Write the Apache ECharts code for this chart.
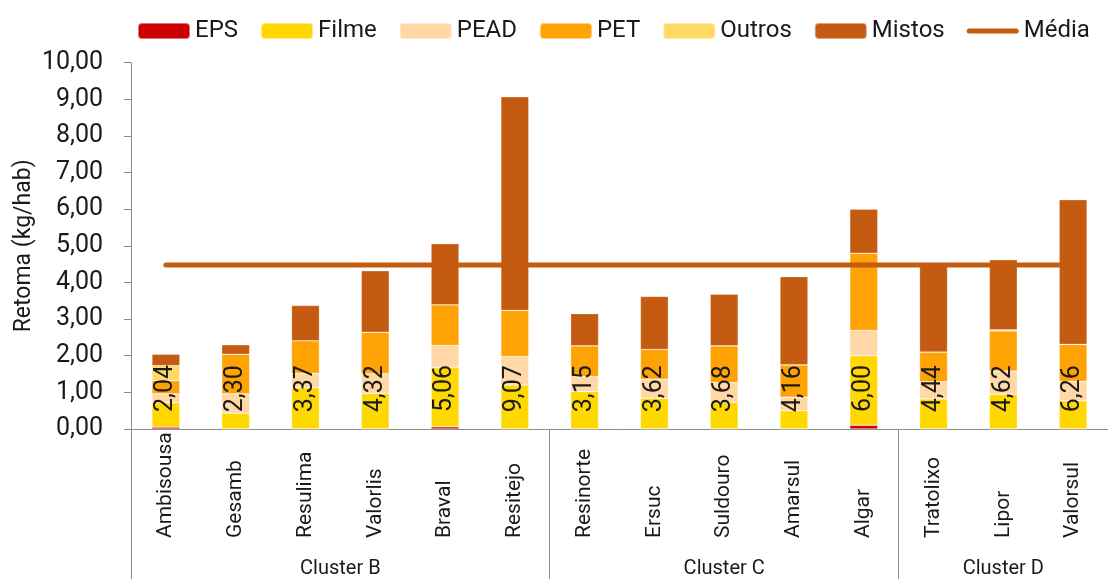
<!DOCTYPE html>
<html>
<head>
<meta charset="utf-8">
<script src="https://cdn.jsdelivr.net/npm/echarts@6/dist/echarts.min.js"></script>
<style>
  html, body { margin: 0; padding: 0; background: #fff; }
  #chart { width: 1108px; height: 579px; }
</style>
</head>
<body>
<div id="chart"></div>
<script>
// dados por sistema (kg/hab)
const categories = ['Ambisousa', 'Gesamb', 'Resulima', 'Valorlis', 'Braval', 'Resitejo', 'Resinorte', 'Ersuc', 'Suldouro', 'Amarsul', 'Algar', 'Tratolixo', 'Lipor', 'Valorsul'];
const eps    = [0.05, 0, 0, 0, 0.06, 0, 0, 0, 0, 0, 0.10, 0, 0, 0];
const filme  = [0.67, 0.43, 1.13, 0.97, 1.62, 1.20, 1.02, 0.84, 0.73, 0.50, 1.90, 0.82, 0.95, 0.77];
const pead   = [0.24, 0.53, 0.39, 0.54, 0.60, 0.78, 0.41, 0.52, 0.54, 0.37, 0.69, 0.47, 0.63, 0.53];
const pet    = [0.36, 1.08, 0.89, 1.13, 1.11, 1.26, 0.84, 0.81, 1.00, 0.88, 2.11, 0.81, 1.10, 1.01];
const outros = [0.41, 0, 0, 0, 0, 0, 0, 0, 0, 0, 0, 0, 0.03, 0];
const mistos = [0.31, 0.26, 0.96, 1.68, 1.67, 5.83, 0.88, 1.45, 1.41, 2.41, 1.20, 2.34, 1.91, 3.95];
const totals = [2.04, 2.30, 3.37, 4.32, 5.06, 9.07, 3.15, 3.62, 3.68, 4.16, 6.00, 4.44, 4.62, 6.26];
const media = 4.48;

// clusters
const clusterNames = ['Cluster B', 'Cluster C', 'Cluster D'];
const clusterSizes = [6, 5, 3];

const yTicks = [0, 1, 2, 3, 4, 5, 6, 7, 8, 9, 10];

// limites e centros dos clusters no eixo
const bounds = [0];
clusterSizes.forEach(function (n) { bounds.push(bounds[bounds.length - 1] + n); });
const mids = clusterNames.map(function (c, i) { return (bounds[i] + bounds[i + 1]) / 2; });

const fmt = function (v) { return v.toFixed(2).replace('.', ','); };
const txt = '#1a1a1a';
const axisGrey = '#8c8c8c';
const num = 'Roboto';

var myChart = echarts.init(document.getElementById('chart'));

function barSeries(name, data, color) {
    return {
        name: name,
        type: 'bar',
        stack: 'total',
        barWidth: '40%',
        data: data,
        itemStyle: { color: color, borderColor: 'rgba(255,255,255,0.45)', borderWidth: 0.6 }
    };
}

var series = [
    barSeries('EPS', eps, '#CC0000'),
    barSeries('Filme', filme, '#FFD800'),
    barSeries('PEAD', pead, '#FFD8A6'),
    barSeries('PET', pet, '#FFA204'),
    barSeries('Outros', outros, '#FFD966'),
    barSeries('Mistos', mistos, '#C55A11')
];
// rótulo com o total, na base da barra
series[0].z = 4;
series[0].label = {
    show: true,
    position: 'insideBottom',
    distance: 17,
    rotate: 90,
    align: 'left',
    verticalAlign: 'middle',
    color: txt,
    fontFamily: num,
    fontSize: 25,
    formatter: function (p) { return fmt(totals[p.dataIndex]); }
};
series.push({
    name: 'Média',
    type: 'line',
    data: categories.map(function () { return media; }),
    symbol: 'none',
    z: 5,
    lineStyle: { color: '#C55A11', width: 5, cap: 'round' },
    itemStyle: { color: '#C55A11' }
});

let option = {
    animation: false,
    backgroundColor: '#fff',
    legend: {
        data: ['EPS', 'Filme', 'PEAD', 'PET', 'Outros', 'Mistos',
            { name: 'Média', icon: 'path://M2.5,0 L49.5,0 A2.5,2.5 0 0 1 49.5,5 L2.5,5 A2.5,2.5 0 0 1 2.5,0 Z' }],
        left: 132,
        top: 14,
        width: 1000,
        itemWidth: 52,
        itemHeight: 16,
        itemGap: 22,
        textStyle: { color: txt, fontFamily: num, fontSize: 24 }
    },
    grid: { left: 131, top: 62.7, width: 990, height: 366.3 },
    xAxis: [
        {
            type: 'category',
            data: categories,
            axisLine: { lineStyle: { color: axisGrey, width: 1 } },
            axisTick: { length: 111, lineStyle: { color: axisGrey } },
            axisLabel: {
                interval: 0,
                rotate: 90,
                align: 'left',
                verticalAlign: 'middle',
                margin: 109,
                color: txt,
                fontFamily: num,
                fontSize: 21
            }
        },
        {
            type: 'value',
            min: 0,
            max: categories.length,
            position: 'bottom',
            axisLine: { show: false },
            splitLine: { show: false },
            axisTick: { show: true, customValues: bounds, length: 150, lineStyle: { color: axisGrey } },
            axisLabel: {
                customValues: mids,
                margin: 130,
                color: txt,
                fontFamily: num,
                fontSize: 20,
                formatter: function (v) {
                    var i = mids.indexOf(v);
                    return i >= 0 ? clusterNames[i] : '';
                }
            }
        }
    ],
    yAxis: {
        type: 'value',
        min: yTicks[0],
        max: yTicks[yTicks.length - 1],
        interval: 1,
        name: 'Retoma (kg/hab)',
        nameLocation: 'middle',
        nameGap: 95,
        nameMoveOverlap: false,
        nameTextStyle: { color: txt, fontFamily: num, fontSize: 23 },
        axisLine: { show: true, lineStyle: { color: axisGrey, width: 1 } },
        axisTick: { show: true, length: 7, lineStyle: { color: axisGrey } },
        splitLine: { show: false },
        axisLabel: { margin: 28, color: txt, fontFamily: num, fontSize: 25, formatter: fmt }
    },
    series: series
};

myChart.setOption(option);
</script>
</body>
</html>
